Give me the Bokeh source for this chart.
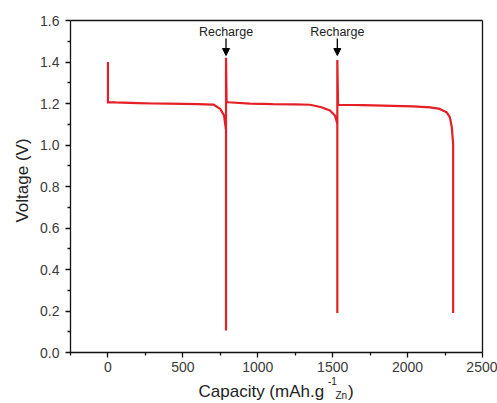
import math
from bokeh.plotting import figure
from bokeh.models import (Range1d, FixedTicker, PrintfTickFormatter, Label,
                          Arrow, NormalHead, LinearAxis)
from bokeh.embed import file_html
from bokeh.resources import INLINE

# ---- data ----
capacity = [0, 0, 0, 5, 50, 100, 200, 300, 400, 500, 600, 704, 749, 775, 788,
            788, 788,
            792, 800, 949, 1100, 1250, 1349, 1425, 1482, 1515, 1525, 1531,
            1531, 1531,
            1536, 1700, 1900, 2038, 2150, 2215, 2260, 2282, 2295, 2304, 2304]
voltage = [1.40, 1.20, 1.206, 1.207, 1.205, 1.204, 1.202, 1.200, 1.199, 1.198,
           1.197, 1.195, 1.174, 1.142, 1.07,
           0.106, 1.42,
           1.21, 1.206, 1.199, 1.197, 1.196, 1.194, 1.182, 1.166, 1.142, 1.118, 1.10,
           0.19, 1.41,
           1.194, 1.192, 1.189, 1.186, 1.181, 1.174, 1.158, 1.134, 1.086, 1.006, 0.19]

recharge_x = [788, 1531]
recharge_text = ["Recharge", "Recharge"]

x_ticks = [0, 500, 1000, 1500, 2000, 2500]
x_minor = [-250, 250, 750, 1250, 1750, 2250]
y_ticks = [0.0, 0.2, 0.4, 0.6, 0.8, 1.0, 1.2, 1.4, 1.6]
y_minor = [0.1, 0.3, 0.5, 0.7, 0.9, 1.1, 1.3, 1.5]

X_MIN, X_MAX = -250, 2500
Y_MIN, Y_MAX = 0.0, 1.6

# ---- layout (pixels) ----
W, H = 497, 403
BOX_L, BOX_R, BOX_T, BOX_B = 70, 482, 20, 352
xs = (X_MAX - X_MIN) / (BOX_R - BOX_L)      # data units per px
ys = (Y_MAX - Y_MIN) / (BOX_B - BOX_T)


def dx(px):
    return X_MIN + (px - BOX_L) * xs


def dy(py):
    return Y_MIN + (BOX_B - py) * ys


FONT = "Liberation Sans"
RED = "#e41f26"
INK = "#111111"
TXT = "#222222"

# the frame spans the whole canvas; the axes are pinned to the box edges
p = figure(width=W, height=H, output_backend="svg", toolbar_location=None,
           x_range=Range1d(dx(0), dx(W)), y_range=Range1d(dy(H), dy(0)),
           x_axis_location=None, y_axis_location=None, min_border=0)
p.grid.visible = False
p.outline_line_color = None
p.background_fill_color = "white"
p.border_fill_color = "white"

p.line(capacity, voltage, line_color=RED, line_width=2.2)


def style(ax):
    ax.axis_line_color = INK
    ax.axis_line_width = 1.3
    ax.major_tick_line_color = INK
    ax.minor_tick_line_color = INK
    ax.major_tick_line_width = 1.3
    ax.minor_tick_line_width = 1.3
    ax.major_tick_in = 0
    ax.major_tick_out = 5
    ax.minor_tick_in = 0
    ax.minor_tick_out = 3
    ax.major_label_text_font = FONT
    ax.major_label_text_font_size = "14px"
    ax.major_label_text_color = "#3a3a3a"


xaxis = LinearAxis(fixed_location=Y_MIN, bounds=(X_MIN, X_MAX),
                   ticker=FixedTicker(ticks=x_ticks, minor_ticks=x_minor))
style(xaxis)
xaxis.major_label_standoff = 4
p.add_layout(xaxis, "below")

yaxis = LinearAxis(fixed_location=X_MIN, bounds=(Y_MIN, Y_MAX),
                   ticker=FixedTicker(ticks=y_ticks, minor_ticks=y_minor),
                   formatter=PrintfTickFormatter(format="%.1f"))
style(yaxis)
yaxis.major_label_standoff = 6
p.add_layout(yaxis, "left")

# plain box edges on top and right
top = LinearAxis(fixed_location=Y_MAX, bounds=(X_MIN, X_MAX),
                 ticker=FixedTicker(ticks=[]))
right = LinearAxis(fixed_location=X_MAX, bounds=(Y_MIN, Y_MAX),
                   ticker=FixedTicker(ticks=[]))
for ax in (top, right):
    style(ax)
    ax.major_tick_out = 0
    ax.minor_tick_out = 0
p.add_layout(top, "above")
p.add_layout(right, "right")

# axis titles
p.add_layout(Label(x=dx(22), y=dy(180), text="Voltage (V)", text_font=FONT,
                   text_font_size="17px", text_color=TXT, angle=math.pi / 2,
                   text_align="center", text_baseline="middle"))
p.add_layout(Label(x=dx(198), y=dy(391), text="Capacity (mAh.g", text_font=FONT,
                   text_font_size="17px", text_color=TXT,
                   text_baseline="middle"))
p.add_layout(Label(x=dx(327.5), y=dy(380.5), text="-1", text_font=FONT,
                   text_font_size="10px", text_color=TXT,
                   text_baseline="middle"))
p.add_layout(Label(x=dx(335), y=dy(394.5), text="Zn", text_font=FONT,
                   text_font_size="10px", text_color=TXT,
                   text_baseline="middle"))
p.add_layout(Label(x=dx(347.5), y=dy(391), text=")", text_font=FONT,
                   text_font_size="17px", text_color=TXT,
                   text_baseline="middle"))

for rx, rt in zip(recharge_x, recharge_text):
    p.add_layout(Label(x=rx, y=dy(31), text=rt, text_font=FONT,
                       text_font_size="12.5px", text_color=TXT,
                       text_align="center", text_baseline="middle"))
    p.add_layout(Arrow(x_start=rx, y_start=dy(38), x_end=rx, y_end=dy(55),
                       line_color="black", line_width=1.3,
                       end=NormalHead(size=7, fill_color="black",
                                      line_color="black")))

open("out.html", "w").write(file_html(p, INLINE))
